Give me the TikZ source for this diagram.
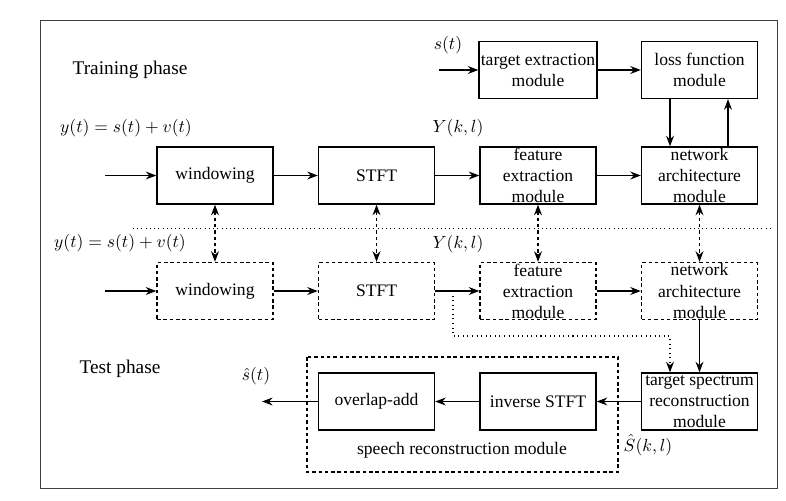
\documentclass[tikz,border=0pt]{standalone}
\usepackage[no-math]{fontspec}
\setmainfont{Liberation Serif}
\usetikzlibrary{arrows.meta}

\begin{document}
\begin{tikzpicture}[x=0.02cm,y=-0.02cm,>={Stealth[length=6pt,width=4.5pt]},
  block/.style={draw,thick,rectangle,minimum width=2.32cm,minimum height=1.14cm,align=center,inner xsep=1pt,inner ysep=0pt},
  dashes/.style={dash pattern=on 2pt off 1.6pt},
  dblock/.style={block,dashes},
  link/.style={->,thick},
  phase/.style={font=\fontsize{11pt}{13pt}\selectfont}]
\useasboundingbox (0,0) rectangle (786,500);
\draw[black!75] (40,20) rectangle (777,488);
% training phase
\node (trainlabel) at (130,70) [phase] {Training phase};
\node (ylab1) at (126,128) {$y(t)=s(t)+v(t)$};
\node (Ylab1) at (458,128) {$Y(k,l)$};
\node (slab) at (448,45) {$s(t)$};
\node (target) at (538,70) [block] {target extraction\\module};
\node (loss) at (699.5,70) [block] {loss function\\module};
\node (win1) at (215,175.5) [block] {windowing};
\node (stft1) at (376.5,175.5) [block] {STFT};
\node (feat1) at (538,175.5) [block] {feature\\extraction\\module};
\node (net1) at (699.5,175.5) [block] {network\\architecture\\module};
\coordinate (in1) at (105,175.5);
\coordinate (sin) at (439,70);
\draw[link] (in1) -- (win1);
\draw[link] (win1) -- (stft1);
\draw[link] (stft1) -- (feat1);
\draw[link] (feat1) -- (net1);
\draw[link] (sin) -- (target);
\draw[link] (target) -- (loss);
\draw[link] ([xshift=-0.59cm]loss.south) -- ([xshift=-0.59cm]net1.north);
\draw[link] ([xshift=0.57cm]net1.north) -- ([xshift=0.57cm]loss.south);
% separator
\coordinate (sepl) at (133,228);
\coordinate (sepr) at (772,228);
\draw[dotted] (sepl) -- (sepr);
% test phase
\node (testlabel) at (120,369) [phase] {Test phase};
\node (ylab2) at (120,243) {$y(t)=s(t)+v(t)$};
\node (Ylab2) at (458,244) {$Y(k,l)$};
\node (win2) at (215,291) [dblock] {windowing};
\node (stft2) at (376.5,291) [dblock] {STFT};
\node (feat2) at (538,291) [dblock] {feature\\extraction\\module};
\node (net2) at (699.5,291) [dblock] {network\\architecture\\module};
\coordinate (in2) at (105,291);
\draw[link] (in2) -- (win2);
\draw[link] (win2) -- (stft2);
\draw[link] (stft2) -- (feat2);
\draw[link] (feat2) -- (net2);
\draw[<->,thick,dashes] (win1) -- (win2);
\draw[<->,thick,dashes] (stft1) -- (stft2);
\draw[<->,thick,dashes] (feat1) -- (feat2);
\draw[<->,thick,dashes] (net1) -- (net2);
% reconstruction
\draw[thick,dashes] (307,357) rectangle (618,472);
\node (srmlabel) at (462,450) {speech reconstruction module};
\node (tsr) at (699.5,401.5) [block] {target spectrum\\reconstruction\\module};
\node (istft) at (538,401.5) [block] {inverse STFT};
\node (ola) at (376.5,401.5) [block] {overlap-add};
\node (shat) at (256,376) {$\hat{s}(t)$};
\node (Shat) at (648,445) {$\hat{S}(k,l)$};
\coordinate (out) at (262,401.5);
\coordinate (tap) at (453,291);
\coordinate (bend) at (453,336);
\draw[link] (net2) -- (tsr);
\draw[->,dotted,semithick] (tap) -- (bend) -| ([xshift=-0.59cm]tsr.north);
\draw[link] (tsr) -- (istft);
\draw[link] (istft) -- (ola);
\draw[link] (ola) -- (out);
\end{tikzpicture}
\end{document}
